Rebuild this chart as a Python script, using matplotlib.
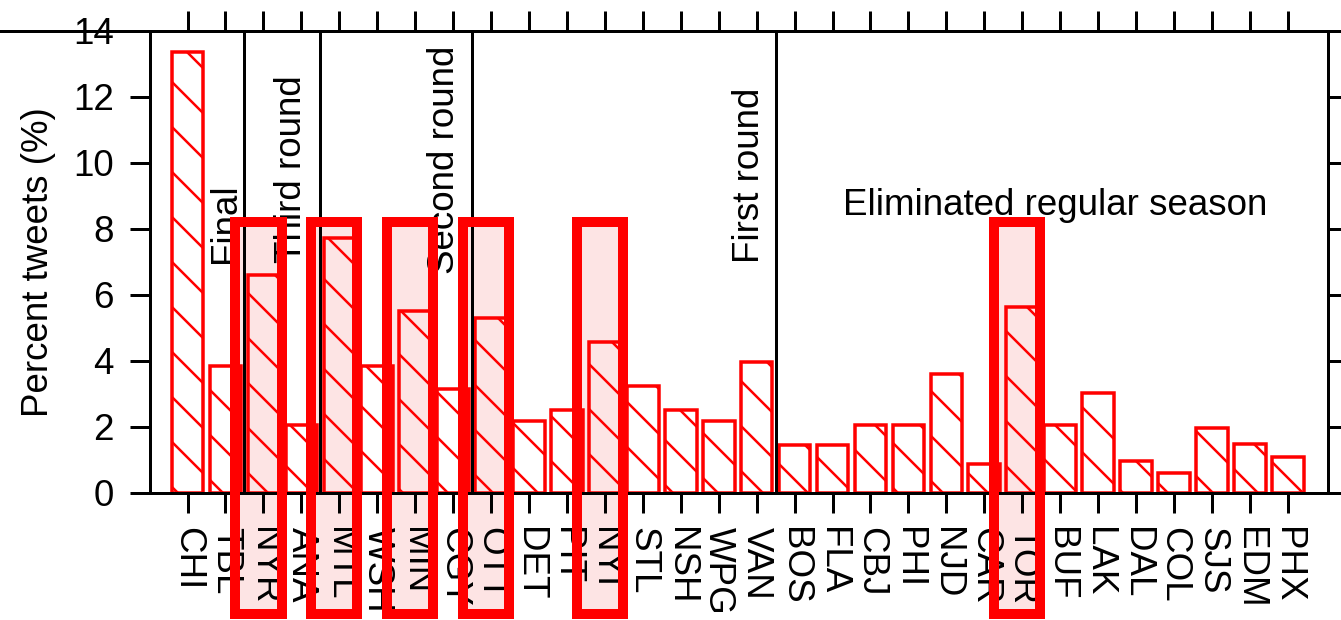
# -*- coding: utf-8 -*-
# Percent tweets per team, with playoff-round breaks and highlighted teams

import numpy as np
import matplotlib
matplotlib.use('Agg')
import matplotlib.pyplot as plt
from matplotlib.patches import Rectangle
from matplotlib.lines import Line2D

# Data ---------
teams = ['CHI', 'TBL', 'NYR', 'ANA', 'MTL', 'WSH', 'MIN', 'CGY', 'OTT', 'DET',
         'PIT', 'NYI', 'STL', 'NSH', 'WPG', 'VAN', 'BOS', 'FLA', 'CBJ', 'PHI',
         'NJD', 'CAR', 'TOR', 'BUF', 'LAK', 'DAL', 'COL', 'SJS', 'EDM', 'PHX']
pct = [13.34, 3.85, 6.6, 2.07, 7.72, 3.85, 5.51, 3.15, 5.3, 2.19,
       2.51, 4.56, 3.24, 2.51, 2.19, 3.96, 1.45, 1.45, 2.06, 2.06,
       3.61, 0.88, 5.63, 2.06, 3.03, 0.97, 0.61, 1.97, 1.48, 1.09]
highlight = ['NYR', 'MTL', 'MIN', 'OTT', 'NYI', 'TOR']

round_breaks = [2.5, 4.5, 8.5, 16.5]
round_labels = ['Final', 'Third round', 'Second round', 'First round']
round_label_x = [2.01, 3.75, 7.76, 15.8]
round_label_y = [8.17, 9.8, 10.08, 9.62]
elim_label = 'Eliminated regular season'
elim_xy = (23.87, 8.69)

# Style ---------
DPI = 270
def px(p):
    return p * 72 / DPI   # pixels -> points at this dpi

fs = 9.8
plt.rcParams['font.family'] = ['Liberation Sans', 'DejaVu Sans']
plt.rcParams['hatch.linewidth'] = px(2.5)
plt.rcParams['hatch.color'] = 'red'

fig = plt.figure(figsize=(1341 / DPI, 620 / DPI), dpi=DPI)
ax = fig.add_axes([150 / 1341, 1 - 493 / 620, 1178 / 1341, 462.5 / 620])

x = np.arange(1, len(teams) + 1)
ax.bar(x, pct, width=0.833, facecolor='none', edgecolor='red', hatch='\\\\',
       linewidth=px(3.5), zorder=2)

# highlight boxes (run down over the tick labels)
box_w = 1.215
box_bottom, box_top = -3.66, 8.2
for t in highlight:
    xi = x[teams.index(t)] - 0.13
    ax.add_patch(Rectangle((xi - box_w / 2, box_bottom), box_w, box_top - box_bottom,
                           facecolor='#fde4e4', edgecolor='none', zorder=1, clip_on=False))
    ax.add_patch(Rectangle((xi - box_w / 2, box_bottom), box_w, box_top - box_bottom,
                           fill=False, edgecolor='red', linewidth=px(10), zorder=5,
                           clip_on=False))

for b in round_breaks:
    ax.axvline(b, color='black', linewidth=px(3), zorder=3)
for lab, lx, ly in zip(round_labels, round_label_x, round_label_y):
    ax.text(lx, ly, lab, rotation=90, ha='center', va='center', fontsize=fs, zorder=4)
ax.text(elim_xy[0], elim_xy[1], elim_label, ha='center', va='center', fontsize=fs, zorder=4)

ax.set_xlim(0.01, 31.06)
ax.set_ylim(0, 14)
ax.set_xticks(x)
ax.set_xticklabels(teams, rotation=-90)
ax.set_yticks(range(0, 15, 2))
ax.set_ylabel('Percent tweets (%)', fontsize=fs, labelpad=px(17))

ax.tick_params(axis='both', direction='out', length=px(20), width=px(3), labelsize=fs)
ax.tick_params(axis='x', top=True, labeltop=False, pad=px(14))
ax.tick_params(axis='y', right=True, labelright=False, pad=px(16))
for s in ax.spines.values():
    s.set_linewidth(px(3))

# the top rule runs the full width of the figure
top = 1 - 30.5 / 620
fig.add_artist(Line2D([0, 1], [top, top], transform=fig.transFigure,
                      color='black', linewidth=px(3)))

fig.savefig('out.png', dpi=DPI)
plt.close()
